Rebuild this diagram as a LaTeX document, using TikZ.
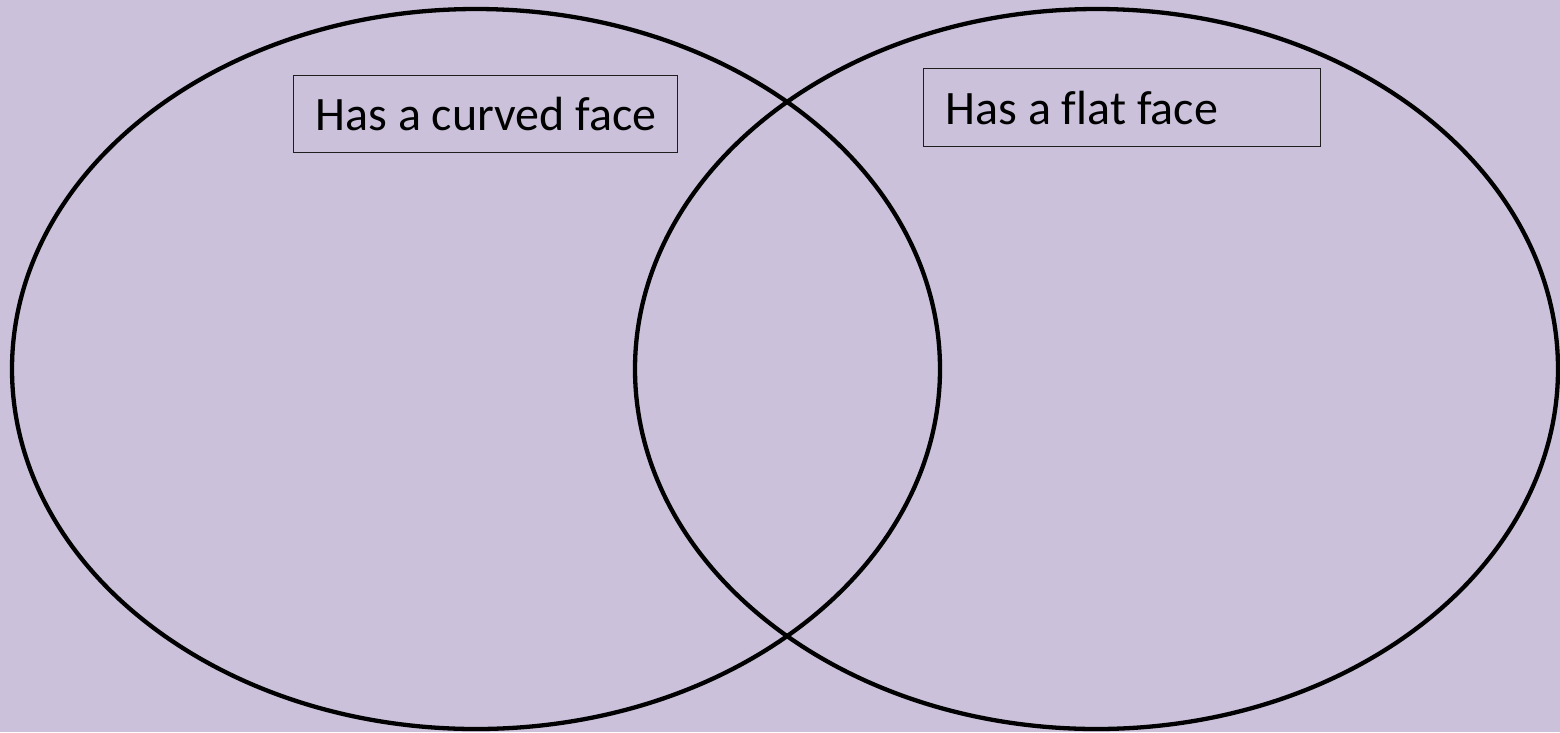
\documentclass[tikz,border=0pt]{standalone}
\usepackage{fontspec}
\setmainfont{Carlito}[Ligatures=NoCommon]
\definecolor{bglav}{RGB}{203,193,218}
\definecolor{boxline}{RGB}{30,30,30}
\begin{document}
\begin{tikzpicture}[x=1pt,y=-1pt,
  setring/.style={line width=4.3pt,draw=black},
  labelbox/.style={draw=boxline,line width=1.2pt,anchor=north west,inner xsep=22pt,inner ysep=0pt,
    font=\fontsize{48}{58}\selectfont}]
\fill[bglav] (0,0) rectangle (1560,732);
\useasboundingbox (0,0) rectangle (1560,732);
\draw[setring] (476,369) ellipse [x radius=464, y radius=360];
\draw[setring] (1096.5,369) ellipse [x radius=461.5, y radius=360];
\node[labelbox,minimum height=77pt] (curved) at (293,75) {\makebox[340pt][l]{Has a curved face}};
\node[labelbox,minimum height=78pt] (flat) at (923,68) {\makebox[353pt][l]{Has a flat face}};
\end{tikzpicture}
\end{document}
